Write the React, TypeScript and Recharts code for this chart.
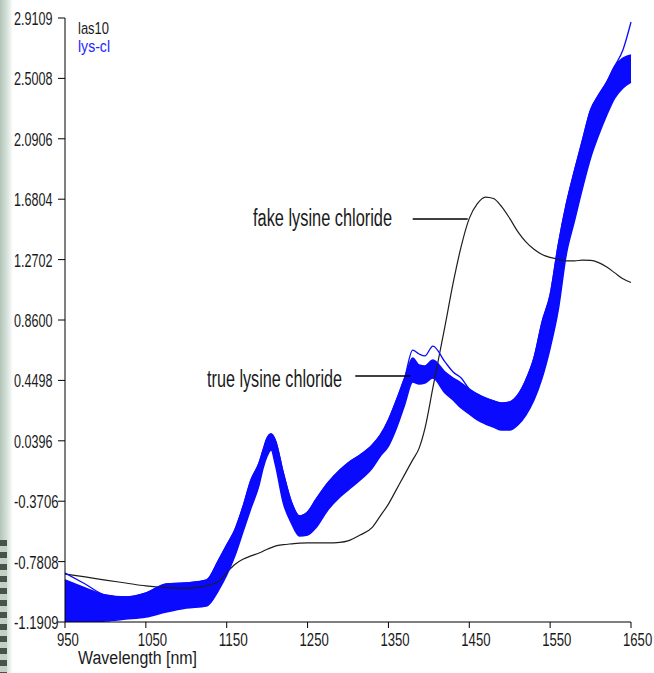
import React from "react";
import {
  ComposedChart,
  Area,
  Line,
  XAxis,
  YAxis,
  ReferenceLine,
} from "recharts";

// wavelength grid (nm)
const wavelengths = [
  950, 975, 1000, 1025, 1050, 1075, 1100, 1125, 1140, 1150,
  1160, 1170, 1180, 1190, 1195, 1200, 1205, 1210, 1220, 1230,
  1240, 1250, 1260, 1275, 1290, 1300, 1315, 1330, 1340, 1350,
  1360, 1370, 1380, 1388, 1395, 1405, 1420, 1430, 1440, 1450,
  1460, 1470, 1480, 1490, 1500, 1510, 1520, 1530, 1540, 1550,
  1560, 1570, 1580, 1590, 1600, 1610, 1620, 1630, 1640, 1650,
];

// las10 - fake lysine chloride spectrum
const fakeSpectrum = [
  -0.865, -0.885, -0.906, -0.926, -0.946, -0.958, -0.962, -0.945, -0.915, -0.855,
  -0.8, -0.765, -0.742, -0.722, -0.71, -0.697, -0.686, -0.676, -0.666, -0.66,
  -0.655, -0.654, -0.654, -0.654, -0.65, -0.64, -0.6, -0.548, -0.47, -0.39,
  -0.29, -0.19, -0.09, -0.01, 0.12, 0.4, 0.82, 1.11, 1.36, 1.55,
  1.65, 1.695, 1.685, 1.63, 1.55, 1.46, 1.39, 1.34, 1.305, 1.285,
  1.272, 1.262, 1.262, 1.266, 1.265, 1.25, 1.22, 1.18, 1.14, 1.115,
];

// lys-cl - envelope of the true lysine chloride spectra
const trueUpper = [
  -0.906, -0.96, -1.008, -1.021, -0.994, -0.933, -0.926, -0.906, -0.77, -0.668,
  -0.566, -0.41, -0.227, -0.111, -0.023, 0.059, 0.086, 0.045, -0.179, -0.376,
  -0.471, -0.444, -0.362, -0.247, -0.159, -0.111, -0.057, 0.011, 0.079, 0.181,
  0.317, 0.466, 0.602, 0.554, 0.548, 0.588, 0.507, 0.466, 0.432, 0.391,
  0.357, 0.33, 0.31, 0.296, 0.303, 0.351, 0.453, 0.602, 0.846, 1.03,
  1.369, 1.648, 1.872, 2.082, 2.286, 2.388, 2.476, 2.585, 2.639, 2.66,
];

const trueLower = [
  -1.19, -1.19, -1.184, -1.171, -1.157, -1.123, -1.096, -1.082, -0.974, -0.872,
  -0.743, -0.58, -0.417, -0.261, -0.145, -0.064, -0.023, -0.118, -0.383, -0.519,
  -0.607, -0.6, -0.553, -0.43, -0.342, -0.295, -0.227, -0.145, -0.064, 0.004,
  0.127, 0.283, 0.439, 0.425, 0.432, 0.466, 0.364, 0.317, 0.262, 0.222,
  0.181, 0.154, 0.133, 0.113, 0.113, 0.147, 0.215, 0.317, 0.466, 0.67,
  0.928, 1.308, 1.532, 1.756, 1.96, 2.116, 2.252, 2.368, 2.436, 2.476,
];

// single lys-cl spectrum lying above the rest
const trueHighest = [
  -0.858, -0.933, -1.008, -1.021, -0.994, -0.933, -0.926, -0.906, -0.77, -0.668,
  -0.566, -0.41, -0.227, -0.111, -0.023, 0.059, 0.086, 0.045, -0.179, -0.376,
  -0.471, -0.444, -0.362, -0.247, -0.159, -0.111, -0.057, 0.011, 0.079, 0.181,
  0.317, 0.466, 0.656, 0.629, 0.616, 0.683, 0.575, 0.507, 0.466, 0.391,
  0.357, 0.33, 0.31, 0.296, 0.303, 0.351, 0.453, 0.602, 0.846, 1.03,
  1.369, 1.648, 1.872, 2.082, 2.286, 2.388, 2.476, 2.585, 2.694, 2.884,
];

const xTicks = [950, 1050, 1150, 1250, 1350, 1450, 1550, 1650];
const yTicks = [
  -1.1909, -0.7808, -0.3706, 0.0396, 0.4498, 0.86, 1.2702, 1.6804, 2.0906, 2.5008, 2.9109,
];

const rows = wavelengths.map((nm, i) => ({
  nm,
  fake: fakeSpectrum[i],
  band: [trueLower[i], trueUpper[i]],
  hi: trueUpper[i],
  lo: trueLower[i],
  top: trueHighest[i],
}));

const FONT = "'Liberation Sans', Arial, sans-serif";
const BLUE = "#0a0aff";

// the original labels use a narrow face; squeeze glyphs to this width
const charW = (s: string, digit: number) =>
  s.split("").reduce((w, c) => w + (c === "." ? digit / 2 : c === "-" ? 6 : digit), 0);

const YTick = (props: any) => {
  const label = Number(props.payload.value).toFixed(4);
  return (
    <text
      x={14}
      y={props.y + 7}
      fontSize={18}
      fontFamily={FONT}
      fill="#1a1a1a"
      textLength={charW(label, 7)}
      lengthAdjust="spacingAndGlyphs"
    >
      {label}
    </text>
  );
};

const XTick = (props: any) => {
  const label = String(props.payload.value);
  return (
    <text
      x={props.x - 8}
      y={646}
      fontSize={18}
      fontFamily={FONT}
      fill="#1a1a1a"
      textLength={charW(label, 7.3)}
      lengthAdjust="spacingAndGlyphs"
    >
      {label}
    </text>
  );
};

const squeezed = (width: number) => ({
  textLength: width,
  lengthAdjust: "spacingAndGlyphs" as const,
});

export default function App() {
  return (
    <div
      style={{
        position: "absolute",
        left: 0,
        top: 0,
        width: 654,
        height: 673,
        background: "#fff",
        overflow: "hidden",
      }}
    >
      {/* scanned edge on the left */}
      <div
        style={{
          position: "absolute",
          left: 0,
          top: 0,
          width: 13,
          height: 673,
          background: "linear-gradient(to right, #b3c4b8, #d6e2da 55%, #ffffff)",
        }}
      />
      <div
        style={{
          position: "absolute",
          left: 0,
          top: 540,
          width: 7,
          height: 133,
          background:
            "repeating-linear-gradient(to bottom, #46524a 0px, #46524a 6px, #c3d0c6 6px, #c3d0c6 12px)",
        }}
      />
      <ComposedChart
        width={654}
        height={673}
        data={rows}
        margin={{ top: 18, right: 23, bottom: 0, left: 0 }}
        style={{ position: "absolute", left: 0, top: 0 }}
      >
        <XAxis
          dataKey="nm"
          type="number"
          domain={[950, 1650]}
          ticks={xTicks}
          height={51}
          tickSize={6}
          axisLine={{ stroke: "#000" }}
          tickLine={{ stroke: "#000" }}
          tick={<XTick />}
          interval={0}
        />
        <YAxis
          type="number"
          domain={[-1.1909, 2.9109]}
          ticks={yTicks}
          allowDataOverflow
          width={65}
          tickSize={7}
          axisLine={{ stroke: "#000" }}
          tickLine={{ stroke: "#000" }}
          tick={<YTick />}
          interval={0}
        />
        <Line
          dataKey="fake"
          type="monotone"
          stroke="#1e1e1e"
          strokeWidth={1.2}
          dot={false}
          isAnimationActive={false}
        />
        <Area
          dataKey="band"
          type="monotone"
          stroke="none"
          fill={BLUE}
          fillOpacity={1}
          isAnimationActive={false}
        />
        <Line dataKey="hi" type="monotone" stroke={BLUE} strokeWidth={1.5} dot={false} isAnimationActive={false} />
        <Line dataKey="lo" type="monotone" stroke={BLUE} strokeWidth={1.5} dot={false} isAnimationActive={false} />
        <Line dataKey="top" type="monotone" stroke={BLUE} strokeWidth={1.3} dot={false} isAnimationActive={false} />
        <ReferenceLine
          segment={[{ x: 1380, y: 1.546 }, { x: 1448, y: 1.546 }]}
          stroke="#000"
          strokeWidth={1.5}
        />
        <ReferenceLine
          segment={[{ x: 1309, y: 0.48 }, { x: 1377, y: 0.48 }]}
          stroke="#000"
          strokeWidth={1.5}
        />
      </ComposedChart>
      <svg
        width={654}
        height={673}
        style={{ position: "absolute", left: 0, top: 0, pointerEvents: "none" }}
        fontFamily={FONT}
      >
        <text x={78} y={34} fontSize={17} fill="#1a1a1a" {...squeezed(31)}>
          las10
        </text>
        <text x={78} y={52} fontSize={17} fill="#2323ff" {...squeezed(32)}>
          lys-cl
        </text>
        <text x={253} y={226} fontSize={23} fill="#1a1a1a" {...squeezed(139)}>
          fake lysine chloride
        </text>
        <text x={207} y={387} fontSize={23} fill="#1a1a1a" {...squeezed(135)}>
          true lysine chloride
        </text>
        <text x={78} y={664} fontSize={18} fill="#1a1a1a" {...squeezed(119)}>
          Wavelength [nm]
        </text>
      </svg>
    </div>
  );
}
